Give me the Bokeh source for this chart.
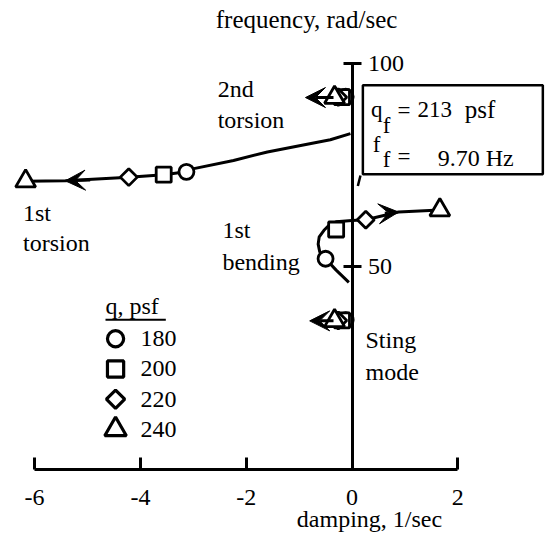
import numpy as np
from bokeh.plotting import figure
from bokeh.models import (ColumnDataSource, Range1d, LinearAxis, FixedTicker, Arrow,
                          VeeHead, Label, BoxAnnotation, Grid)
from bokeh.core.properties import value
from bokeh.embed import file_html
from bokeh.resources import INLINE

FONT = "Liberation Serif"

# dynamic pressure levels (psf) and the symbol used for each
q_levels = [180, 200, 220, 240]
q_symbols = ["circle", "square", "diamond", "triangle"]

# axis ticks
damping_ticks = [-6, -4, -2, 0, 2]
damping_tick_labels = ["-6", "-4", "-2", "0", "2"]
freq_ticks = [50, 100]

# 1st torsion: roots at each q, and the faired locus from the axis outward
t1_damp = [-3.13, -3.56, -4.22, -6.17]
t1_freq = [73.3, 72.6, 72.0, 71.0]
t1_path_damp = [-0.03, -0.41, -0.97, -1.60, -2.24, -2.99, -3.13, -3.56, -4.22, -5.42, -6.17]
t1_path_freq = [82.7, 81.2, 79.8, 78.2, 76.1, 74.1, 73.3, 72.6, 72.0, 71.1, 71.0]

# 1st bending: crosses zero damping between 200 and 220 psf
b1_damp = [-0.50, -0.30, 0.26, 1.66]
b1_freq = [51.9, 59.1, 61.5, 63.9]
b1_path_damp = [-0.06, -0.30, -0.50, -0.61, -0.64, -0.62, -0.53, -0.44, -0.30, 0.0, 0.26, 0.88, 1.66]
b1_path_freq = [46.1, 49.1, 51.9, 53.6, 55.5, 57.3, 58.9, 60.1, 61.0, 61.3, 61.5, 63.4, 63.9]

# 2nd torsion and sting mode hardly move with q
t2_damp = [-0.12, -0.19, -0.26, -0.33]
t2_freq = [91.8, 91.7, 91.7, 91.6]
s_damp = [-0.12, -0.19, -0.26, -0.33]
s_freq = [36.8, 36.7, 36.7, 36.6]

# arrows pointing the way of increasing q
arrow_x0 = [-4.95, 0.62, -0.35, -0.35]
arrow_y0 = [71.3, 63.1, 91.6, 36.6]
arrow_x1 = [-5.42, 0.88, -0.88, -0.80]
arrow_y1 = [71.1, 63.4, 91.6, 36.6]

# flutter condition
flutter_q = 213
flutter_hz = 9.70

sizes = {"circle": 15, "square": 15, "diamond": 12, "triangle": 20}
shape = {"circle": "circle", "square": "square", "diamond": "square", "triangle": "triangle"}
angle = {"circle": 0.0, "square": 0.0, "diamond": np.pi / 4, "triangle": 0.0}


def marker_source(xs, ys, scale=1.0):
    return ColumnDataSource(dict(
        x=xs, y=ys,
        marker=[shape[s] for s in q_symbols],
        angle=[angle[s] for s in q_symbols],
        size=[sizes[s] * scale for s in q_symbols],
    ))


p = figure(width=549, height=548,
           x_range=Range1d(-6.645, 3.733), y_range=Range1d(-19.46, 115.5),
           x_axis_location=None, y_axis_location=None,
           output_backend="svg", toolbar_location=None, min_border=0)
p.outline_line_color = None
p.center = [r for r in p.center if not isinstance(r, Grid)]

# damping axis along zero frequency
xaxis = LinearAxis(fixed_location=0, ticker=FixedTicker(ticks=damping_ticks), bounds=(-6, 2),
                   major_label_overrides={t: s for t, s in zip(damping_ticks, damping_tick_labels)},
                   major_tick_in=12, major_tick_out=0, minor_tick_line_color=None,
                   axis_line_width=3, major_tick_line_width=3,
                   major_label_text_font=FONT, major_label_text_font_size="24px",
                   major_label_text_color="black", major_label_standoff=21)
p.add_layout(xaxis, "below")

# frequency axis along zero damping
yaxis = LinearAxis(fixed_location=0, ticker=FixedTicker(ticks=freq_ticks), bounds=(0, 100),
                   major_tick_in=9, major_tick_out=9, minor_tick_line_color=None,
                   axis_line_width=3, major_tick_line_width=3,
                   major_label_text_font=FONT, major_label_text_font_size="24px",
                   major_label_text_color="black", major_label_standoff=7)
p.add_layout(yaxis, "right")

# flutter box, kept beneath its own text
p.add_layout(BoxAnnotation(left=0.205, right=3.607, bottom=72.7, top=94.6, level="underlay",
                           fill_color="white", fill_alpha=1.0,
                           line_color="black", line_width=2.5, line_alpha=1.0))
p.segment(x0=[0.16], y0=[72.4], x1=[0.11], y1=[69.8], line_color="black", line_width=2.5)

# loci
p.line(t1_path_damp, t1_path_freq, line_color="black", line_width=3)
p.line(b1_path_damp, b1_path_freq, line_color="black", line_width=3)
p.line(t2_damp, t2_freq, line_color="black", line_width=3)
p.line(s_damp, s_freq, line_color="black", line_width=3)

for i in range(len(arrow_x0)):
    p.add_layout(Arrow(end=VeeHead(size=20, fill_color="black", line_color="black", line_width=1),
                       x_start=arrow_x0[i], y_start=arrow_y0[i],
                       x_end=arrow_x1[i], y_end=arrow_y1[i],
                       line_color="black", line_width=3))

for xs, ys in [(t1_damp, t1_freq), (b1_damp, b1_freq), (t2_damp, t2_freq), (s_damp, s_freq)]:
    p.scatter(x="x", y="y", marker="marker", angle="angle", size="size",
              source=marker_source(xs, ys), fill_color="white", line_color="black", line_width=2.8)


def txt(x, y, s, size="24px", align="left"):
    p.text(x=[x], y=[y], text=[s], text_font=value(FONT), text_font_size=size,
           text_color="black", text_align=align, text_baseline="middle")


# box contents
txt(0.36, 88.7, "q", "23px")
txt(0.58, 84.6, "f", "23px")
txt(0.86, 88.4, "=", "23px")
txt(1.24, 88.7, f"{flutter_q}", "23px")
txt(2.13, 88.7, "psf", "25px")
txt(0.39, 80.0, "f", "23px")
txt(0.58, 76.3, "f", "23px")
txt(0.86, 77.1, "=", "23px")
txt(1.62, 76.7, f"{flutter_hz:.2f} Hz", "24px")

# mode names
txt(-2.54, 93.8, "2nd")
txt(-2.54, 86.0, "torsion")
txt(-6.22, 63.1, "1st")
txt(-6.22, 55.7, "torsion")
txt(-2.45, 58.9, "1st")
txt(-2.45, 51.0, "bending")
txt(0.255, 31.8, "Sting")
txt(0.255, 23.9, "mode")

# legend
leg_y0, leg_step = 32.2, 7.45
leg_y = [leg_y0 - i * leg_step for i in range(len(q_levels))]
txt(-4.66, 40.3, "q, psf")
p.segment(x0=[-4.66], y0=[36.9], x1=[-3.52], y1=[36.9], line_color="black", line_width=2)
p.scatter(x="x", y="y", marker="marker", angle="angle", size="size",
          source=marker_source([-4.47] * 4, leg_y, 1.08),
          fill_color="white", line_color="black", line_width=3.2)
p.text(x=[-4.0] * 4, y=leg_y, text=[str(q) for q in q_levels], text_font=value(FONT),
       text_font_size="24px", text_color="black", text_baseline="middle")

# axis titles
p.add_layout(Label(x=-0.86, y=110.8, text="frequency, rad/sec", text_font=FONT,
                   text_font_size="25px", text_color="black",
                   text_align="center", text_baseline="middle"))
p.add_layout(Label(x=0.33, y=-12.3, text="damping, 1/sec", text_font=FONT,
                   text_font_size="24px", text_color="black",
                   text_align="center", text_baseline="middle"))

open("out.html", "w").write(file_html(p, INLINE))
